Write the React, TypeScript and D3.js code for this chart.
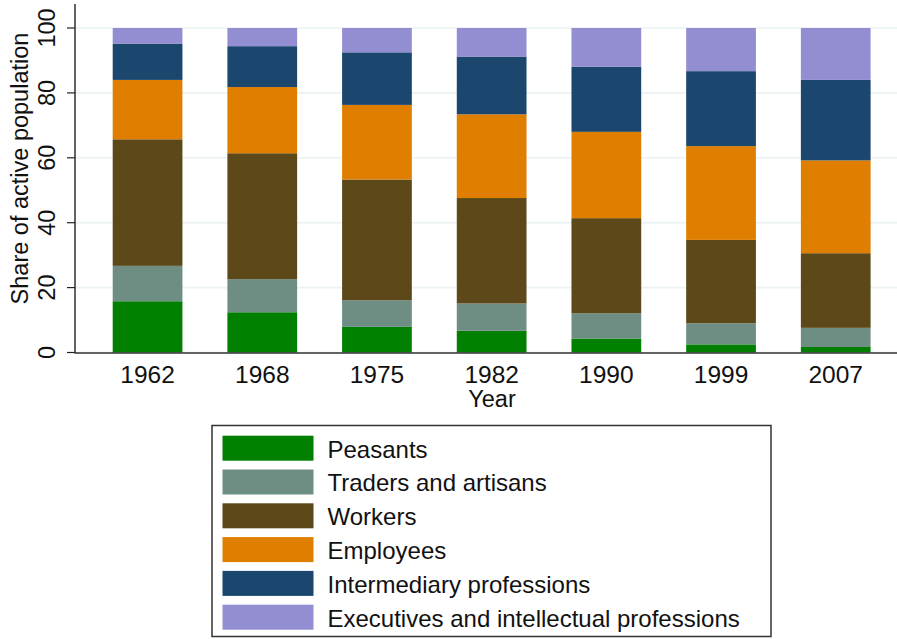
import React from "react";
import * as d3 from "d3";

const years = ["1962", "1968", "1975", "1982", "1990", "1999", "2007"];
const categories = [
  "Peasants",
  "Traders and artisans",
  "Workers",
  "Employees",
  "Intermediary professions",
  "Executives and intellectual professions",
];
const peasants = [15.8, 12.4, 7.9, 6.7, 4.3, 2.5, 1.7];
const traders = [10.9, 10.2, 8.2, 8.4, 7.8, 6.5, 5.9];
const workers = [39.0, 38.8, 37.2, 32.5, 29.3, 25.7, 23.0];
const employees = [18.3, 20.4, 23.0, 25.8, 26.6, 28.9, 28.6];
const intermediary = [11.2, 12.6, 16.2, 17.8, 20.1, 23.1, 24.8];
const executives = [4.8, 5.6, 7.5, 8.8, 11.9, 13.3, 16.0];
const yTicks = [0, 20, 40, 60, 80, 100];
const colors = ["#007f00", "#6e8e84", "#5c4818", "#e07e00", "#1b476f", "#938dd2"];

const series = [peasants, traders, workers, employees, intermediary, executives];

export default function App() {
  const W = 897;
  const H = 639;
  const left = 75;
  const right = 897;
  const font = "'Liberation Sans', Arial, Helvetica, sans-serif";

  const y = d3.scaleLinear().domain([0, 100]).range([352.5, 28]);
  const x = d3
    .scaleBand<string>()
    .domain(years)
    .range([75, 908.3])
    .paddingInner(0.392)
    .paddingOuter(0.3287);

  const table = years.map((yr, i) => {
    const row: Record<string, any> = { year: yr };
    categories.forEach((c, k) => (row[c] = series[k][i]));
    return row;
  });
  const stacked = d3.stack<any>().keys(categories)(table);

  const legendX = 212;
  const legendY = 425.5;
  const pitch = 33.8;

  return (
    <svg
      width={W}
      height={H}
      style={{ position: "absolute", left: 0, top: 0, background: "#fff" }}
      fontFamily={font}
    >
      <rect x={0} y={0} width={W} height={H} fill="#fff" />
      {yTicks.map((t) => (
        <line
          key={"g" + t}
          x1={left}
          x2={right}
          y1={y(t)}
          y2={y(t)}
          stroke="#eaf2f3"
          strokeWidth={1.6}
        />
      ))}
      {stacked.map((s, k) => (
        <g key={s.key} fill={colors[k]}>
          {s.map((d, i) => (
            <rect
              key={i}
              x={x(years[i])}
              width={x.bandwidth()}
              y={y(d[1])}
              height={y(d[0]) - y(d[1])}
            />
          ))}
        </g>
      ))}
      <line x1={left} x2={left} y1={4} y2={353.5} stroke="#222" strokeWidth={1.4} />
      <line x1={left} x2={right} y1={353} y2={353} stroke="#333" strokeWidth={1.6} />
      {yTicks.map((t) => (
        <g key={"t" + t}>
          <line x1={67} x2={left} y1={y(t)} y2={y(t)} stroke="#222" strokeWidth={1.2} />
          <text
            transform={`translate(55,${y(t)}) rotate(-90)`}
            textAnchor="middle"
            fontSize={23.5}
            fill="#111"
          >
            {t}
          </text>
        </g>
      ))}
      <text
        transform={`translate(28,${168.5}) rotate(-90)`}
        textAnchor="middle"
        fontSize={23.5}
        fill="#111"
      >
        Share of active population
      </text>
      {years.map((yr) => (
        <text
          key={yr}
          x={(x(yr) as number) + x.bandwidth() / 2}
          y={382.5}
          textAnchor="middle"
          fontSize={24.5}
          fill="#111"
        >
          {yr}
        </text>
      ))}
      <text x={492} y={407} textAnchor="middle" fontSize={23.5} fill="#111">
        Year
      </text>
      <rect
        x={legendX}
        y={legendY}
        width={559}
        height={211}
        fill="#fff"
        stroke="#333"
        strokeWidth={1.5}
      />
      {categories.map((c, k) => (
        <g key={c}>
          <rect
            x={222.5}
            y={435.7 + k * pitch}
            width={91}
            height={25}
            fill={colors[k]}
          />
          <text x={327.5} y={457.5 + k * pitch} fontSize={24} fill="#111">
            {c}
          </text>
        </g>
      ))}
    </svg>
  );
}
